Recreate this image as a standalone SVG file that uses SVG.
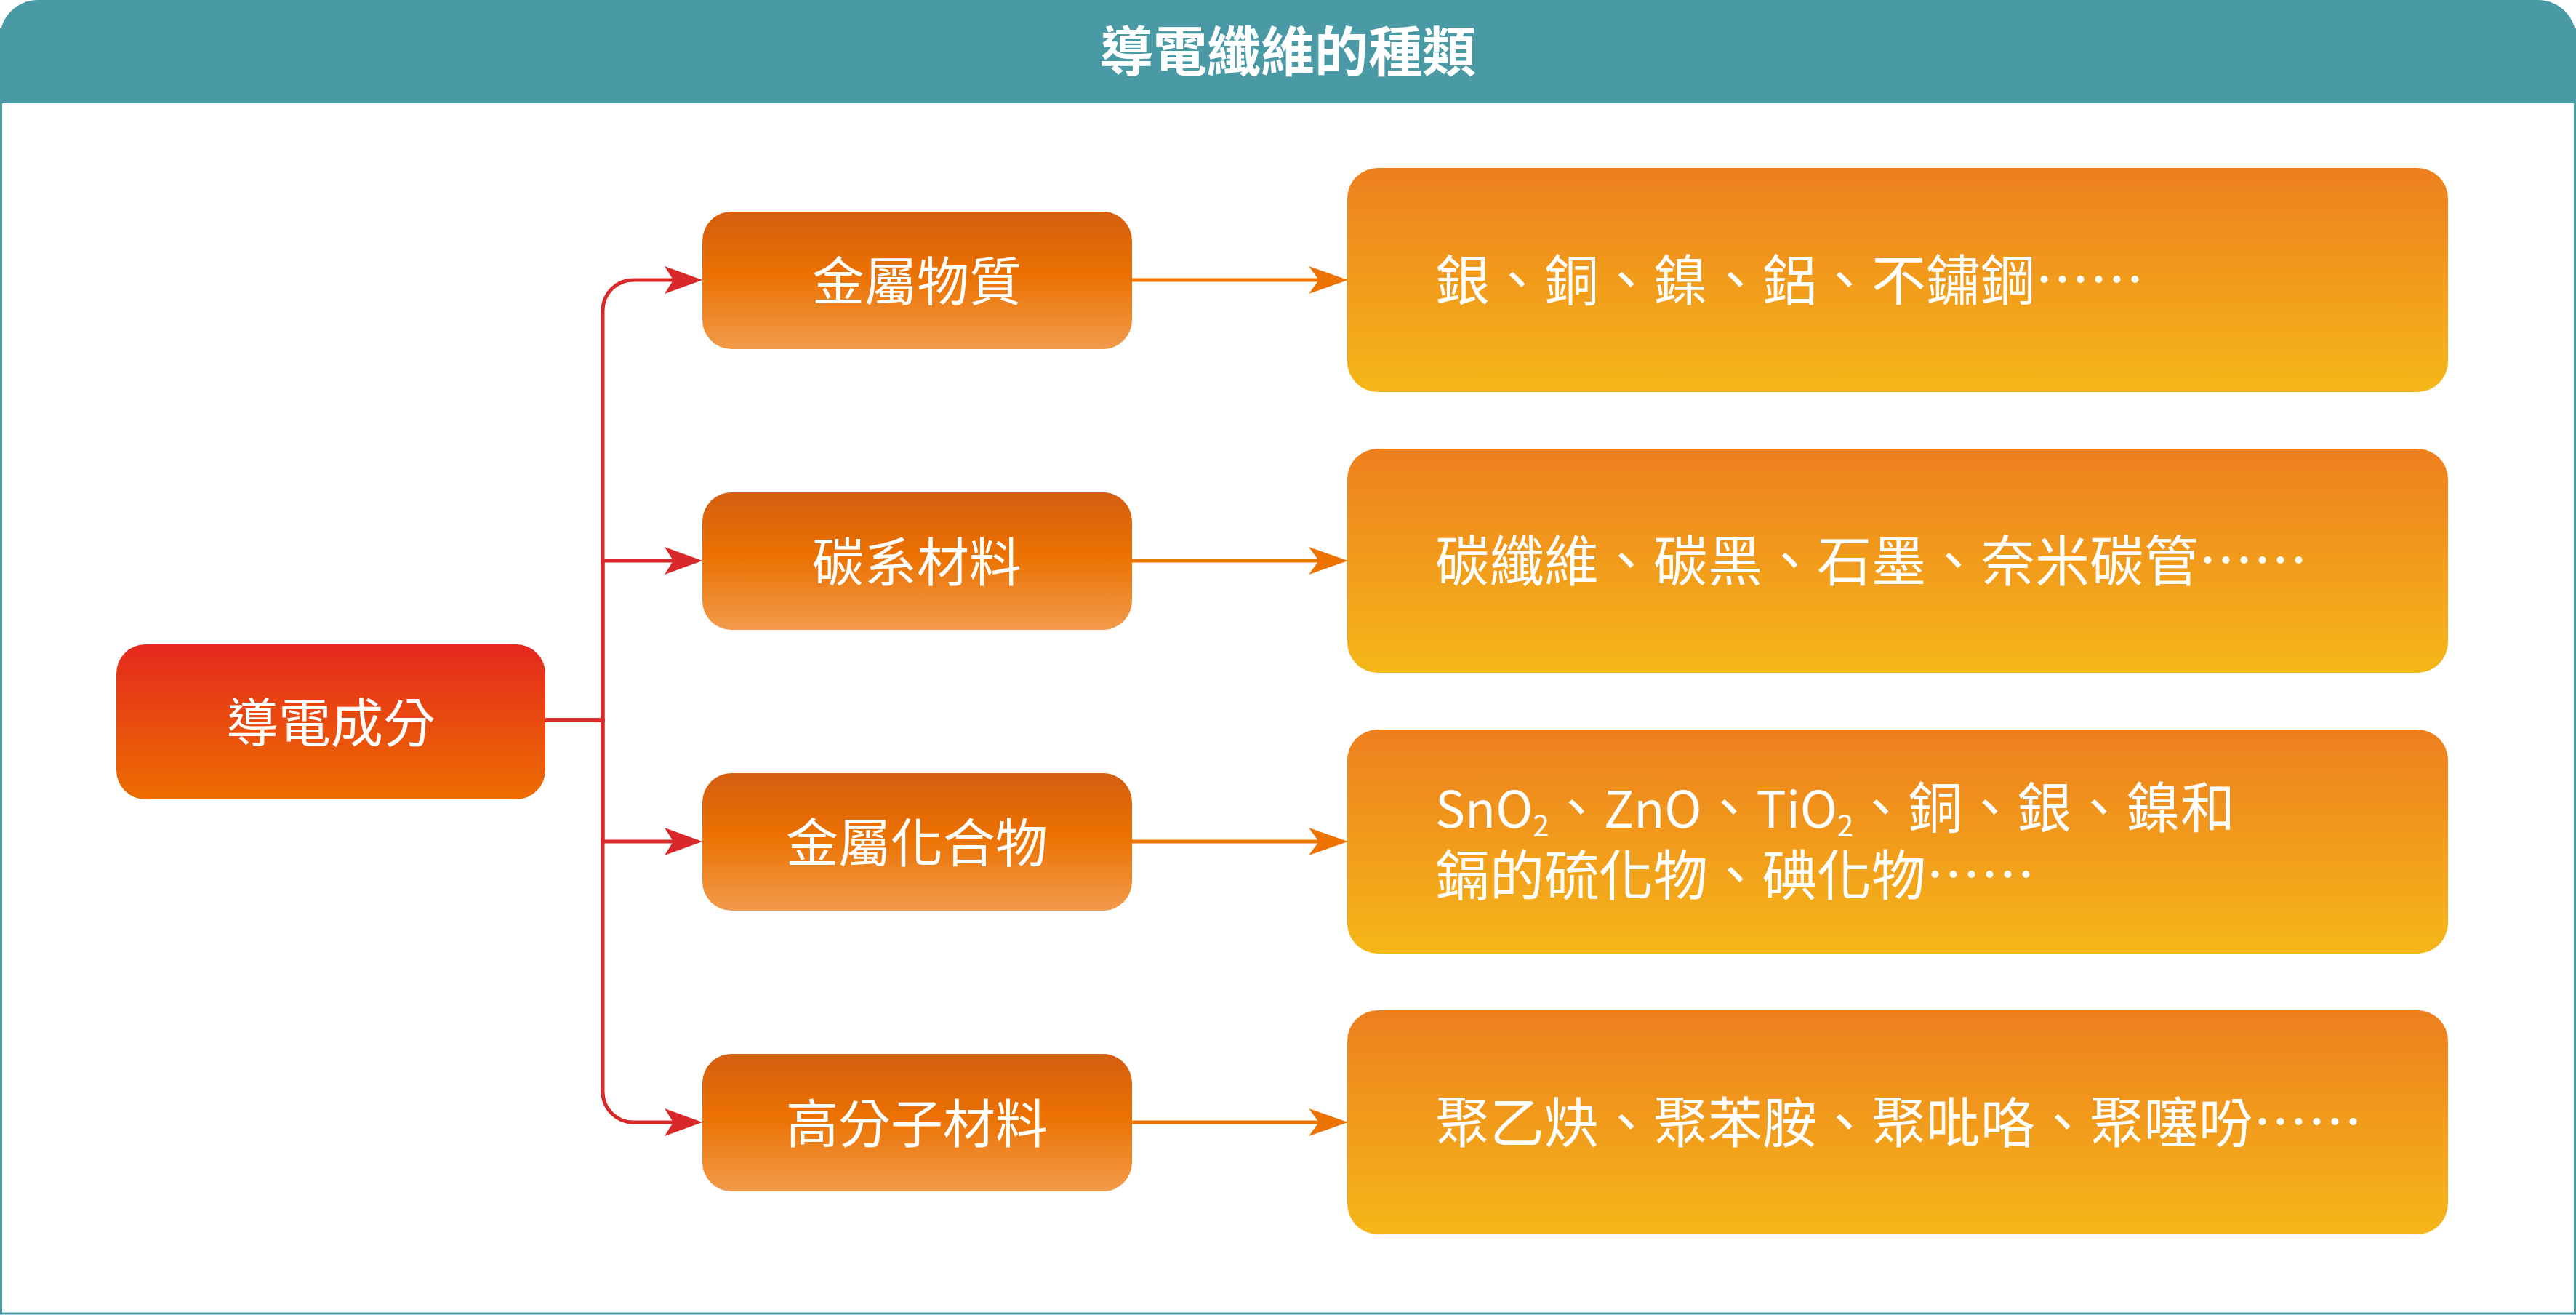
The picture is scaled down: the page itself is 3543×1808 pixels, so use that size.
<svg xmlns="http://www.w3.org/2000/svg" width="3543" height="1808" viewBox="0 0 3543 1808">
<defs>
<linearGradient id="gRoot" x1="0" y1="0" x2="0" y2="1">
<stop offset="0" stop-color="#E5281E"/>
<stop offset="1" stop-color="#ED6E00"/>
</linearGradient>
<linearGradient id="gMid" x1="0" y1="0" x2="0" y2="1">
<stop offset="0" stop-color="#D45E12"/>
<stop offset="0.45" stop-color="#EB7100"/>
<stop offset="1" stop-color="#F29B4C"/>
</linearGradient>
<linearGradient id="gLeaf" x1="0" y1="0" x2="0" y2="1">
<stop offset="0" stop-color="#EE7F1E"/>
<stop offset="1" stop-color="#F5B719"/>
</linearGradient>
<marker id="arrRed" markerUnits="userSpaceOnUse" viewBox="0 0 52 38" markerWidth="52" markerHeight="38" refX="12" refY="19" orient="auto">
<path d="M0,0 L52,19 L0,38 L12,19 Z" fill="#D9282A"/>
</marker>
<marker id="arrOrange" markerUnits="userSpaceOnUse" viewBox="0 0 54 38" markerWidth="54" markerHeight="38" refX="14" refY="19" orient="auto">
<path d="M0,0 L54,19 L0,38 L14,19 Z" fill="#EC7300"/>
</marker>
</defs>
<style>
.txt{font-family:"Noto Sans CJK TC","Noto Sans CJK SC",sans-serif;fill:#FFFFFF;}
.title{font-size:74px;font-weight:bold;}
.lbl{font-size:72px;}
.leaf{font-size:75px;}
.lat{font-size:69px;}
.sub{font-size:40px;}
.red{fill:none;stroke:#D9282A;stroke-width:5;marker-end:url(#arrRed);}
.org{fill:none;stroke:#EC7300;stroke-width:5;marker-end:url(#arrOrange);}
</style>
<rect x="0" y="0" width="3543" height="1808" fill="#FFFFFF"/>
<g id="frame">
<rect x="1.5" y="40" width="3540" height="1766" fill="#FFFFFF" stroke="#4A9AA6" stroke-width="3"/>
<path d="M0,142 V52 A52,52 0 0 1 52,0 H3491 A52,52 0 0 1 3543,52 V142 Z" fill="#4A9AA6"/>
<text class="txt title" x="1771" y="98" text-anchor="middle">導電纖維的種類</text>
</g>
<g id="connectors">
<path class="red" d="M750,990 H829 V427 A42,42 0 0 1 871,385 H926"/>
<path class="red" d="M750,990 H829 V771 H926"/>
<path class="red" d="M750,990 H829 V1157 H926"/>
<path class="red" d="M750,990 H829 V1501 A42,42 0 0 0 871,1543 H926"/>
<path class="org" d="M1557,385 H1814"/>
<path class="org" d="M1557,771 H1814"/>
<path class="org" d="M1557,1157 H1814"/>
<path class="org" d="M1557,1543 H1814"/>
</g>
<g id="root">
<rect x="160" y="886" width="590" height="213" rx="40" ry="40" fill="url(#gRoot)"/>
<text class="txt lbl" x="455" y="1020" text-anchor="middle">導電成分</text>
</g>
<g id="metal">
<rect x="966" y="291" width="591" height="189" rx="40" ry="40" fill="url(#gMid)"/>
<text class="txt lbl" x="1261" y="413" text-anchor="middle">金屬物質</text>
</g>
<g id="carbon">
<rect x="966" y="677" width="591" height="189" rx="40" ry="40" fill="url(#gMid)"/>
<text class="txt lbl" x="1261" y="799" text-anchor="middle">碳系材料</text>
</g>
<g id="compound">
<rect x="966" y="1063" width="591" height="189" rx="40" ry="40" fill="url(#gMid)"/>
<text class="txt lbl" x="1261" y="1185" text-anchor="middle">金屬化合物</text>
</g>
<g id="polymer">
<rect x="966" y="1449" width="591" height="189" rx="40" ry="40" fill="url(#gMid)"/>
<text class="txt lbl" x="1261" y="1571" text-anchor="middle">高分子材料</text>
</g>
<g id="metal-examples">
<rect x="1853" y="231" width="1514" height="308" rx="42" ry="42" fill="url(#gLeaf)"/>
<text class="txt leaf" x="1974" y="413">銀、銅、鎳、鋁、不鏽鋼……</text>
</g>
<g id="carbon-examples">
<rect x="1853" y="617" width="1514" height="308" rx="42" ry="42" fill="url(#gLeaf)"/>
<text class="txt leaf" x="1974" y="799">碳纖維、碳黑、石墨、奈米碳管……</text>
</g>
<g id="compound-examples">
<rect x="1853" y="1003" width="1514" height="308" rx="42" ry="42" fill="url(#gLeaf)"/>
<text class="txt leaf" x="1974" y="1138"><tspan class="lat">SnO</tspan><tspan class="sub" dy="12">2</tspan><tspan dy="-12">、</tspan><tspan class="lat">ZnO</tspan>、<tspan class="lat">TiO</tspan><tspan class="sub" dy="12">2</tspan><tspan dy="-12">、銅、銀、鎳和</tspan></text>
<text class="txt leaf" x="1974" y="1231">鎘的硫化物、碘化物……</text>
</g>
<g id="polymer-examples">
<rect x="1853" y="1389" width="1514" height="308" rx="42" ry="42" fill="url(#gLeaf)"/>
<text class="txt leaf" x="1974" y="1571">聚乙炔、聚苯胺、聚吡咯、聚噻吩……</text>
</g>
</svg>
